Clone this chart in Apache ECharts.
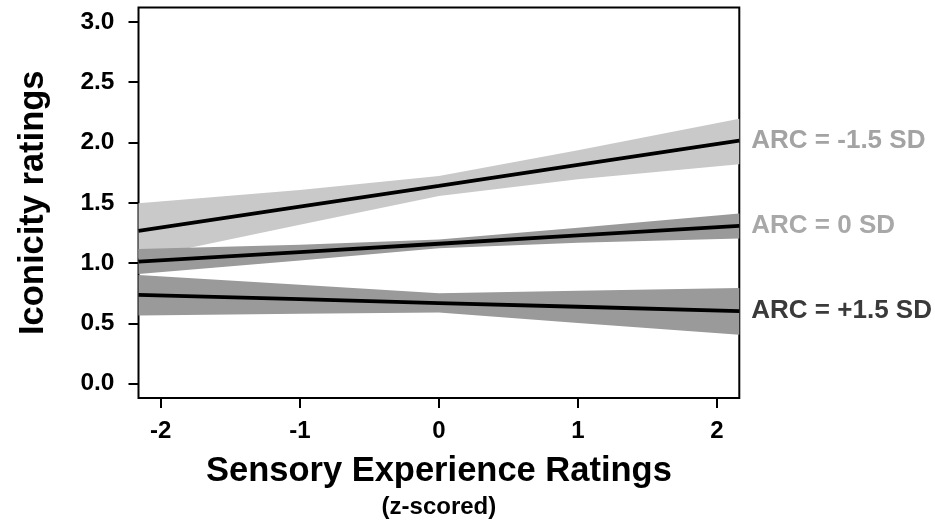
<!DOCTYPE html>
<html>
<head>
<meta charset="utf-8">
<script src="https://cdn.jsdelivr.net/npm/echarts@6/dist/echarts.min.js"></script>
<style>
html,body{margin:0;padding:0;background:#fff;}
#chart{width:935px;height:524px;}
</style>
</head>
<body>
<div id="chart"></div>
<script>
// x positions (z-scored sensory experience) at which fits / bands were read
const xs = [-2.16, -1, 0, 1, 2.16];
// ARC = -1.5 SD
const negFit   = [1.267, 1.468, 1.641, 1.815, 2.015];
const negLower = [1.038, 1.317, 1.556, 1.695, 1.820];
const negUpper = [1.496, 1.605, 1.722, 1.935, 2.196];
// ARC = 0 SD
const zeroFit   = [1.011, 1.091, 1.160, 1.229, 1.308];
const zeroLower = [0.909, 1.020, 1.122, 1.168, 1.204];
const zeroUpper = [1.116, 1.152, 1.195, 1.292, 1.411];
// ARC = +1.5 SD
const posFit   = [0.736, 0.700, 0.668, 0.637, 0.601];
const posLower = [0.565, 0.580, 0.590, 0.503, 0.405];
const posUpper = [0.901, 0.819, 0.749, 0.769, 0.793];

const xTicks = [-2, -1, 0, 1, 2];
const yTicks = [0, 0.5, 1, 1.5, 2, 2.5, 3];
const labels = ['ARC = -1.5 SD', 'ARC = 0 SD', 'ARC = +1.5 SD'];

const FONT = '"Liberation Sans", Arial, Helvetica, sans-serif';
const pairs = (a) => xs.map((x, i) => [x, a[i]]);

function band(lo, hi, color) {
  return {
    type: 'custom', silent: true, z: 2, clip: true,
    data: [[xs[0], lo[0]]],
    renderItem: function (params, api) {
      const top = xs.map((x, i) => api.coord([x, hi[i]]));
      const bot = xs.map((x, i) => api.coord([x, lo[i]])).reverse();
      return { type: 'polygon', shape: { points: top.concat(bot) },
               style: { fill: color, stroke: null } };
    }
  };
}
function fit(values, text, color) {
  return { type: 'line', data: pairs(values), symbol: 'none', silent: true, z: 5,
    lineStyle: { color: '#000', width: 3.8 },
    endLabel: { show: true, formatter: text, distance: 12, color: color,
      fontSize: 26, fontWeight: 'bold', fontFamily: FONT } };
}

const chart = echarts.init(document.getElementById('chart'), null, { renderer: 'canvas' });
chart.setOption({
  animation: false,
  backgroundColor: '#fff',
  grid: { left: 138.5, right: 195.7, top: 7.5, bottom: 124.7, show: true,
    borderColor: '#000', borderWidth: 2, backgroundColor: 'transparent' },
  xAxis: {
    type: 'value', min: -2.16, max: 2.16,
    axisLine: { show: false, onZero: false },
    splitLine: { show: false },
    axisTick: { show: true, customValues: xTicks, length: 10, lineStyle: { color: '#000', width: 2 } },
    axisLabel: { customValues: xTicks, formatter: (v) => String(v), fontSize: 24, fontWeight: 'bold',
      color: '#000', margin: 21, fontFamily: FONT },
    name: '{t|Sensory Experience Ratings}\n{s|(z-scored)}',
    nameLocation: 'middle', nameGap: 52,
    nameTextStyle: { align: 'center', fontFamily: FONT, color: '#000',
      rich: { t: { fontSize: 34.5, fontWeight: 'bold', fontFamily: FONT, lineHeight: 42, color: '#000' },
              s: { fontSize: 24, fontWeight: 'bold', fontFamily: FONT, lineHeight: 30, color: '#000' } } }
  },
  yAxis: {
    type: 'value', min: -0.12, max: 3.12,
    axisLine: { show: false, onZero: false },
    splitLine: { show: false },
    axisTick: { show: true, customValues: yTicks, length: 10, lineStyle: { color: '#000', width: 2 } },
    axisLabel: { customValues: yTicks, formatter: (v) => v.toFixed(1), fontSize: 24.5, fontWeight: 'bold',
      color: '#000', margin: 24, fontFamily: FONT },
    name: 'Iconicity ratings', nameLocation: 'middle', nameGap: 88, nameRotate: 90,
    nameTextStyle: { fontSize: 34.5, fontWeight: 'bold', color: '#000', fontFamily: FONT }
  },
  series: [
    band(negLower, negUpper, '#c9c9c9'),
    band(zeroLower, zeroUpper, '#9a9a9a'),
    band(posLower, posUpper, '#9a9a9a'),
    fit(negFit, labels[0], '#a3a3a3'),
    fit(zeroFit, labels[1], '#a8a8a8'),
    fit(posFit, labels[2], '#3a3a3a')
  ]
});
</script>
</body>
</html>
